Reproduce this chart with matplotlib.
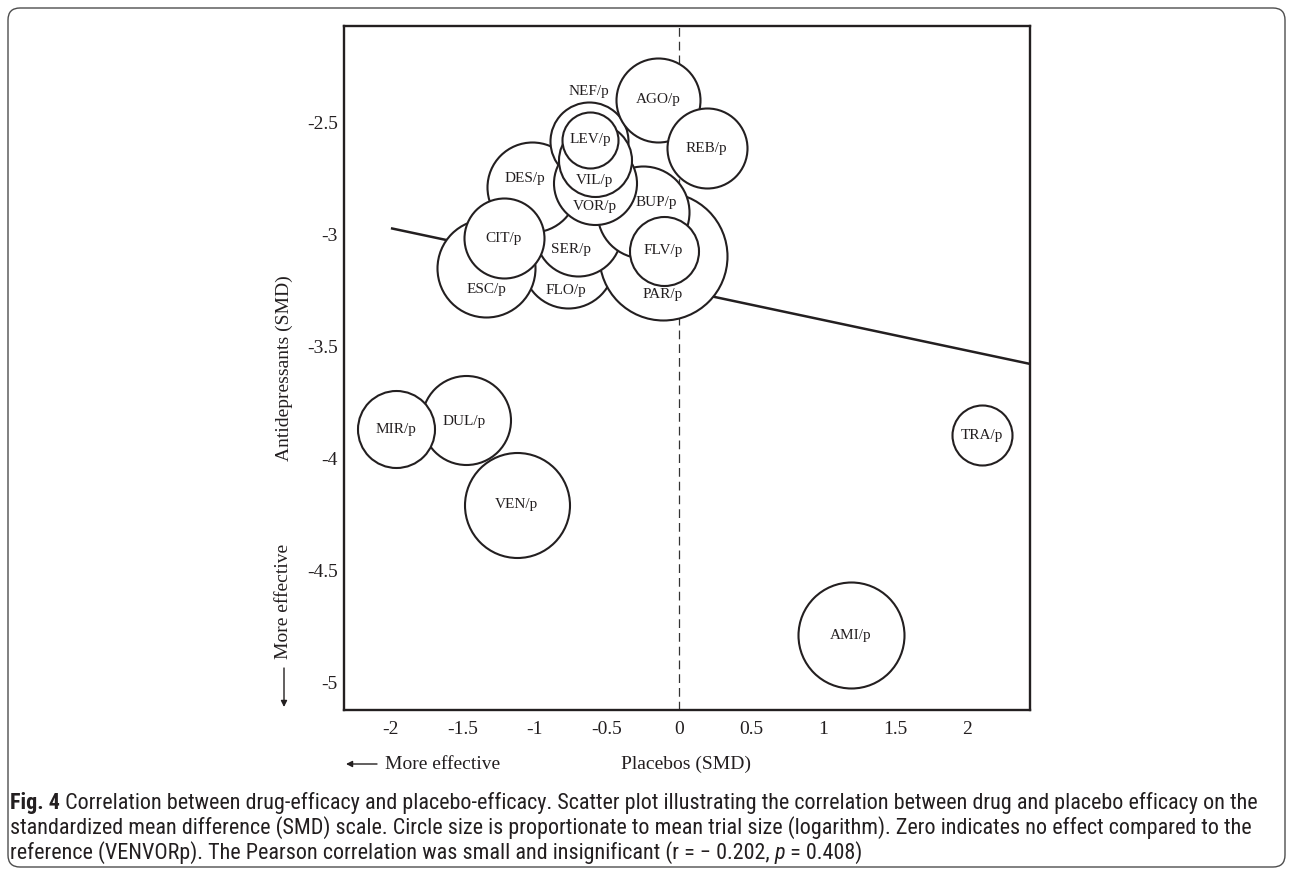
import matplotlib
matplotlib.use("Agg")
import matplotlib.pyplot as plt
from matplotlib import font_manager as fm
from matplotlib.patches import FancyBboxPatch
from matplotlib.transforms import IdentityTransform

# ---------------- data ----------------
drugs = ['AGO', 'REB', 'NEF', 'LEV', 'VIL', 'VOR', 'DES', 'CIT', 'ESC', 'SER',
         'FLO', 'BUP', 'FLV', 'PAR', 'MIR', 'DUL', 'VEN', 'TRA', 'AMI']
placebo_smd = [-0.146, 0.192, -0.623, -0.618, -0.583, -0.581, -1.021, -1.217, -1.340, -0.703,
               -0.773, -0.250, -0.106, -0.113, -1.962, -1.477, -1.128, 2.104, 1.194]
drug_smd = [-2.401, -2.617, -2.584, -2.579, -2.669, -2.773, -2.789, -3.018, -3.152, -2.996,
            -3.123, -2.900, -3.075, -3.096, -3.871, -3.828, -4.209, -3.899, -4.792]
# relative bubble size (log mean trial size, as drawn)
bubble = [42, 40, 39, 28, 36.5, 41.5, 45, 40, 49, 43,
          46, 46, 34.5, 64, 38.5, 44.5, 52.5, 30, 53]

fit_x = [-2.0, 2.44]
fit_y = [-2.974, -3.580]

x_ticks = [-2, -1.5, -1, -0.5, 0, 0.5, 1, 1.5, 2]
x_ticklabels = ['-2', '-1.5', '-1', '-0.5', '0', '0.5', '1', '1.5', '2']
y_ticks = [-5, -4.5, -4, -3.5, -3, -2.5]
y_ticklabels = ['-5', '-4.5', '-4', '-3.5', '-3', '-2.5']

caption_lines = [
    [("Fig. 4", "bold", "normal"),
     (" Correlation between drug-efficacy and placebo-efficacy. Scatter plot illustrating the correlation between drug and placebo efficacy on the", "normal", "normal")],
    [("standardized mean difference (SMD) scale. Circle size is proportionate to mean trial size (logarithm). Zero indicates no effect compared to the", "normal", "normal")],
    [("reference (VENVORp). The Pearson correlation was small and insignificant (r = \u2212 0.202,", "normal", "normal"),
     (" p", "normal", "italic"),
     (" = 0.408)", "normal", "normal")],
]

# ---------------- layout / style ----------------
W, H = 1292, 871
DPI = 100
ink = '#231f20'
serif = ['Liberation Serif', 'DejaVu Serif']

draw_order = ['FLO', 'PAR', 'ESC', 'SER', 'BUP', 'DES', 'NEF', 'VOR', 'VIL', 'LEV',
              'CIT', 'FLV', 'AGO', 'REB', 'DUL', 'MIR', 'VEN', 'TRA', 'AMI']
# label offsets in pixels (dx right, dy down)
label_offsets = {'NEF': (0, -49), 'VIL': (0, 21), 'VOR': (0, 23), 'DES': (-7, -8),
                 'ESC': (0, 21), 'SER': (-7, 16), 'FLO': (-2, 29), 'BUP': (13, -9),
                 'PAR': (0, 39), 'DUL': (-2, 2)}


def has_font(name):
    try:
        fm.findfont(fm.FontProperties(family=name), fallback_to_default=False)
        return True
    except Exception:
        return False


cap_family = next(f for f in ['Liberation Sans Narrow', 'Roboto Condensed', 'Liberation Sans', 'DejaVu Sans']
                  if has_font(f))

fig = plt.figure(figsize=(W / DPI, H / DPI), dpi=DPI)
fig.patch.set_facecolor('white')

ax_l, ax_r, ax_t, ax_b = 344, 1030, 26, 710
ax = fig.add_axes([ax_l / W, 1 - ax_b / H, (ax_r - ax_l) / W, (ax_b - ax_t) / H])
ax.set_xlim(-2.326, 2.438)
ax.set_ylim(-5.125, -2.071)

for sp in ax.spines.values():
    sp.set_linewidth(1.7)
    sp.set_color(ink)
    sp.set_zorder(50)

ax.set_xticks(x_ticks)
ax.set_xticklabels(x_ticklabels, fontfamily=serif, fontsize=14, color=ink)
ax.set_yticks(y_ticks)
ax.set_yticklabels(y_ticklabels, fontfamily=serif, fontsize=14, color=ink)
ax.tick_params(axis='x', length=0, pad=8.0)
ax.tick_params(axis='y', length=0, pad=4.5)

# zero reference line
ax.axvline(0, color='#333333', lw=0.9, ls=(0, (7, 4)), zorder=1)
# regression line
ax.plot(fit_x, fit_y, color=ink, lw=1.8, zorder=2, solid_capstyle='butt')

# bubbles
px2pt = 72.0 / DPI
idx = {d: i for i, d in enumerate(drugs)}
for k, d in enumerate(draw_order):
    i = idx[d]
    diam_pt = 2 * bubble[i] * px2pt
    ax.scatter([placebo_smd[i]], [drug_smd[i]], s=diam_pt ** 2, facecolor='white',
               edgecolor=ink, linewidths=1.5, zorder=10 + k, clip_on=False)

for i, d in enumerate(drugs):
    dx, dy = label_offsets.get(d, (0, 0))
    ax.annotate(d + '/p', (placebo_smd[i], drug_smd[i]), xytext=(dx * px2pt, -dy * px2pt),
                textcoords='offset points', ha='center', va='center',
                fontfamily=serif, fontsize=11, color=ink, zorder=100)

# axis titles
fig.text(686 / W, 1 - 764 / H, 'Placebos (SMD)', ha='center', va='center',
         fontfamily=serif, fontsize=14, color=ink)
fig.text(385 / W, 1 - 764 / H, 'More effective', ha='left', va='center',
         fontfamily=serif, fontsize=14, color=ink)
fig.text(284 / W, 1 - 368 / H, 'Antidepressants (SMD)', ha='center', va='center',
         rotation=90, fontfamily=serif, fontsize=14, color=ink)
fig.text(284 / W, 1 - 601 / H, 'More effective', ha='center', va='center',
         rotation=90, fontfamily=serif, fontsize=14, color=ink)

arrow_kw = dict(arrowstyle='-|>', color=ink, lw=1.0, mutation_scale=9, shrinkA=0, shrinkB=0)
ax.annotate('', xy=(346, H - 764), xycoords='figure pixels',
            xytext=(377, H - 764), textcoords='figure pixels', arrowprops=arrow_kw,
            annotation_clip=False)
ax.annotate('', xy=(284, H - 707), xycoords='figure pixels',
            xytext=(284, H - 668), textcoords='figure pixels', arrowprops=arrow_kw,
            annotation_clip=False)

# outer rounded frame
frame = FancyBboxPatch((8, 4), 1277, 859, boxstyle='round,pad=0,rounding_size=12',
                       transform=IdentityTransform(), facecolor='none',
                       edgecolor='#4d4d4d', lw=1.0)
fig.patches.append(frame)

# caption
renderer = fig.canvas.get_renderer()
probe_size = 14.0
probe = [fig.text(0, 0, t, fontfamily=cap_family, fontsize=probe_size, fontweight=w, fontstyle=s)
         for t, w, s in caption_lines[0]]
width = sum(p.get_window_extent(renderer).width for p in probe)
for p in probe:
    p.remove()
cap_size = probe_size * 1255.0 / width

cap_y = [803, 828, 853]
for yy, segs in zip(cap_y, caption_lines):
    x = 10.0
    for t, w, s in segs:
        tx = fig.text(x / W, 1 - yy / H, t, ha='left', va='center', fontfamily=cap_family,
                      fontsize=cap_size, fontweight=w, fontstyle=s, color=ink)
        x += tx.get_window_extent(renderer).width

fig.savefig('out.png', dpi=DPI, facecolor='white')
